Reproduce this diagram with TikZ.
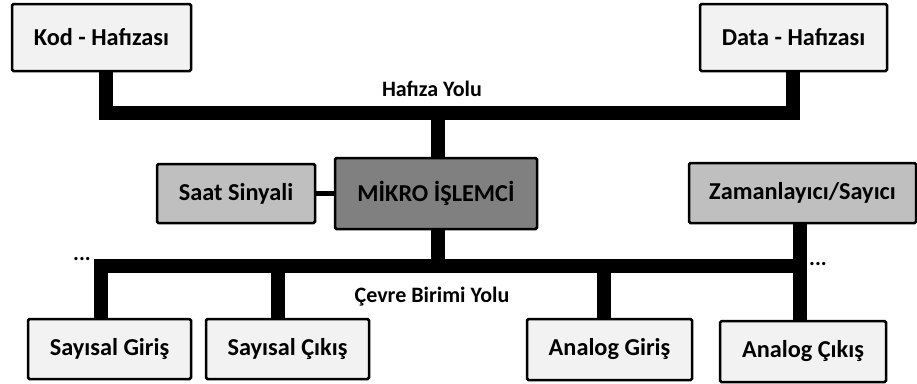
\documentclass[tikz,border=0pt]{standalone}
\usepackage{fontspec}
\setmainfont{Carlito}
\begin{document}
\begin{tikzpicture}[x=1pt,y=1pt,
  unit/.style={draw=black,line width=2.5pt,rounded corners=1.5pt,
    font=\fontsize{24.3}{27}\selectfont\bfseries,inner sep=0pt},
  light/.style={unit,fill=black!5},
  mid/.style={unit,fill=black!25},
  dark/.style={unit,fill=black!50},
  bus/.style={line width=14pt,line join=miter},
  link/.style={line width=5pt},
  lbl/.style={font=\fontsize{22}{25}\selectfont\bfseries}]
\useasboundingbox (0,0) rectangle (917,-383);

% memory blocks
\node[light,minimum width=179pt,minimum height=67pt] (kod) at (101.5,-37.5) {Kod - Hafızası};
\node[light,minimum width=187pt,minimum height=67pt] (data) at (793.5,-37.5) {Data - Hafızası};

% processor and its neighbours
\node[dark,minimum width=202pt,minimum height=71pt] (cpu) at (436,-193.5) {MİKRO İŞLEMCİ};
\node[mid,minimum width=158pt,minimum height=59pt] (clk) at (236,-193.5) {Saat Sinyali};
\node[mid,minimum width=227pt,minimum height=60pt] (tmr) at (802.5,-193) {Zamanlayıcı/Sayıcı};

% peripherals
\node[light,minimum width=163pt,minimum height=60pt] (din) at (109.5,-349) {Sayısal Giriş};
\node[light,minimum width=163pt,minimum height=60pt] (dout) at (287.5,-349) {Sayısal Çıkış};
\node[light,minimum width=165pt,minimum height=61pt] (ain) at (609.5,-349.5) {Analog Giriş};
\node[light,minimum width=166pt,minimum height=61pt] (aout) at (803,-351.5) {Analog Çıkış};

% memory bus
\coordinate (m1) at (106,-113);
\coordinate (m2) at (792.5,-113);
\draw[bus] (kod.south -| m1) -- (m1) -- (m2) -- (data.south -| m2);
\coordinate (mc) at (438,-113);
\draw[bus] (mc) -- (cpu.north -| mc);
\node[lbl] (mlbl) at (432,-89) {Hafıza Yolu};

% peripheral bus
\coordinate (p1) at (100.5,-266);
\coordinate (p2) at (799.5,-266);
\draw[bus] (din.north -| p1) -- (p1) -- (p2);
\draw[bus] (tmr.south -| p2) -- (aout.north -| p2);
\coordinate (pc) at (438,-266);
\draw[bus] (cpu.south -| pc) -- (pc);
\coordinate (pd) at (278,-266);
\draw[bus] (pd) -- (dout.north -| pd);
\coordinate (pa) at (604,-266);
\draw[bus] (pa) -- (ain.north -| pa);
\node[lbl] (plbl) at (432,-297) {Çevre Birimi Yolu};
\node[lbl] (dl) at (82,-259) {...};
\node[lbl] (dr) at (818,-264) {...};

% clock link
\draw[link] (clk.east) -- (cpu.west);
\end{tikzpicture}
\end{document}
